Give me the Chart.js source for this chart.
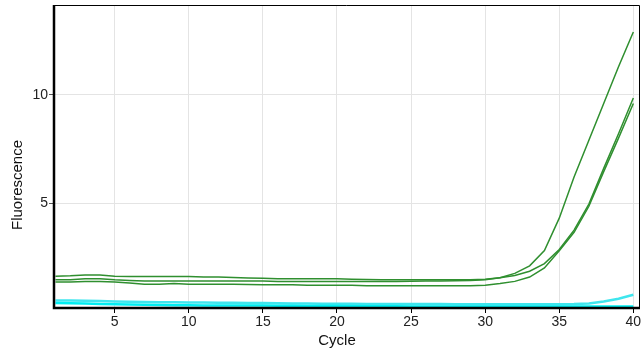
<!DOCTYPE html>
<html>
<head>
<meta charset="utf-8">
<script src="https://cdn.jsdelivr.net/npm/chart.js@4/dist/chart.umd.min.js"></script>
<style>
html,body{margin:0;padding:0;background:#fff;}
#wrap{width:642px;height:357px;position:relative;}
</style>
</head>
<body>
<div id="wrap"><canvas id="c" width="642" height="357"></canvas></div>
<script>
const cycles = Array.from({length: 40}, (_, i) => i + 1);
const xTicks = [5, 10, 15, 20, 25, 30, 35, 40];
const yTicks = [5, 10];

const greenA = [1.62,1.64,1.68,1.68,1.62,1.60,1.60,1.60,1.60,1.60,
                1.58,1.58,1.56,1.54,1.52,1.50,1.50,1.50,1.50,1.50,
                1.48,1.47,1.46,1.46,1.46,1.46,1.46,1.46,1.46,1.48,
                1.55,1.75,2.10,2.80,4.30,6.20,7.90,9.60,11.30,12.90];
const greenB = [1.45,1.45,1.50,1.50,1.45,1.42,1.40,1.40,1.40,1.40,
                1.40,1.40,1.40,1.40,1.40,1.38,1.38,1.38,1.38,1.38,
                1.38,1.38,1.38,1.38,1.39,1.40,1.40,1.41,1.42,1.45,
                1.55,1.65,1.85,2.20,2.85,3.75,4.95,6.60,8.20,9.85];
const greenC = [1.35,1.35,1.38,1.38,1.35,1.30,1.25,1.25,1.28,1.25,
                1.25,1.25,1.25,1.24,1.23,1.23,1.22,1.20,1.20,1.20,
                1.20,1.18,1.18,1.18,1.18,1.18,1.18,1.18,1.18,1.20,
                1.28,1.38,1.58,2.00,2.80,3.65,4.85,6.45,8.00,9.60];
const cyan1 = [0.50,0.50,0.48,0.47,0.45,0.44,0.43,0.42,0.41,0.40,
               0.40,0.39,0.39,0.38,0.38,0.37,0.36,0.36,0.35,0.35,
               0.35,0.34,0.34,0.33,0.33,0.33,0.33,0.32,0.32,0.32,
               0.32,0.32,0.32,0.32,0.32,0.33,0.36,0.45,0.58,0.76];
const cyan2 = [0.38,0.37,0.36,0.34,0.32,0.31,0.30,0.29,0.28,0.28,
               0.27,0.27,0.26,0.26,0.26,0.25,0.25,0.24,0.24,0.24,
               0.23,0.23,0.23,0.23,0.22,0.22,0.22,0.22,0.22,0.22,
               0.22,0.22,0.22,0.22,0.22,0.22,0.22,0.22,0.22,0.22];

const xTitle = "Cycle";
const yTitle = "Fluorescence";

function ds(values, color, width) {
  return {
    data: cycles.map((c, i) => ({x: c, y: values[i]})),
    borderColor: color, borderWidth: width, pointRadius: 0,
    tension: 0, fill: false
  };
}

const frameAndTitles = {
  id: 'frameAndTitles',
  afterDraw(chart) {
    const {ctx, chartArea: a, scales} = chart;
    ctx.save();
    ctx.strokeStyle = '#000';
    ctx.lineWidth = 1;
    ctx.beginPath();
    ctx.moveTo(a.left, a.top + 0.5); ctx.lineTo(a.right - 0.5, a.top + 0.5);
    ctx.lineTo(a.right - 0.5, a.bottom);
    ctx.stroke();
    ctx.lineWidth = 2.5;
    ctx.beginPath();
    ctx.moveTo(a.left, a.top); ctx.lineTo(a.left, a.bottom); ctx.lineTo(a.right, a.bottom);
    ctx.stroke();
    ctx.fillStyle = '#111';
    ctx.font = '15px "Liberation Sans", Arial, sans-serif';
    ctx.textAlign = 'center';
    ctx.textBaseline = 'middle';
    ctx.fillText(xTitle, scales.x.getPixelForValue(20), 341);
    ctx.translate(18, 185);
    ctx.rotate(-Math.PI / 2);
    ctx.fillText(yTitle, 0, 0);
    ctx.restore();
  }
};

new Chart(document.getElementById('c'), {
  type: 'line',
  data: {
    datasets: [
      ds(cyan2, '#00eef2', 2.5),
      ds(cyan1, '#3fe6ee', 2.5),
      ds(greenC, '#2f8f2f', 1.5),
      ds(greenB, '#2f8f2f', 1.5),
      ds(greenA, '#2f8f2f', 1.5)
    ]
  },
  options: {
    responsive: false,
    animation: false,
    layout: {padding: {top: 5, right: 2, left: 0, bottom: 0}},
    plugins: {legend: {display: false}, tooltip: {enabled: false}},
    scales: {
      x: {
        type: 'linear', min: 0.9, max: 40.45,
        afterBuildTicks(s) { s.ticks = xTicks.map(v => ({value: v})); },
        afterFit(s) { s.height = 49; s.paddingLeft = 0; s.paddingRight = 0; },
        grid: {color: '#e4e4e4', lineWidth: 1, tickColor: '#000', tickLength: 5, drawOnChartArea: true},
        border: {display: false},
        ticks: {color: '#222', font: {size: 14, family: '"Liberation Sans", Arial, sans-serif'}, padding: 1, maxRotation: 0}
      },
      y: {
        type: 'linear', min: 0.15, max: 14.15,
        afterBuildTicks(s) { s.ticks = yTicks.map(v => ({value: v})); },
        afterFit(s) { s.width = 54; s.paddingTop = 0; s.paddingBottom = 0; },
        grid: {color: '#e4e4e4', lineWidth: 1, tickColor: '#555', tickLength: 5},
        border: {display: false},
        ticks: {color: '#222', font: {size: 14, family: '"Liberation Sans", Arial, sans-serif'}, padding: 1}
      }
    }
  },
  plugins: [frameAndTitles]
});
</script>
</body>
</html>
